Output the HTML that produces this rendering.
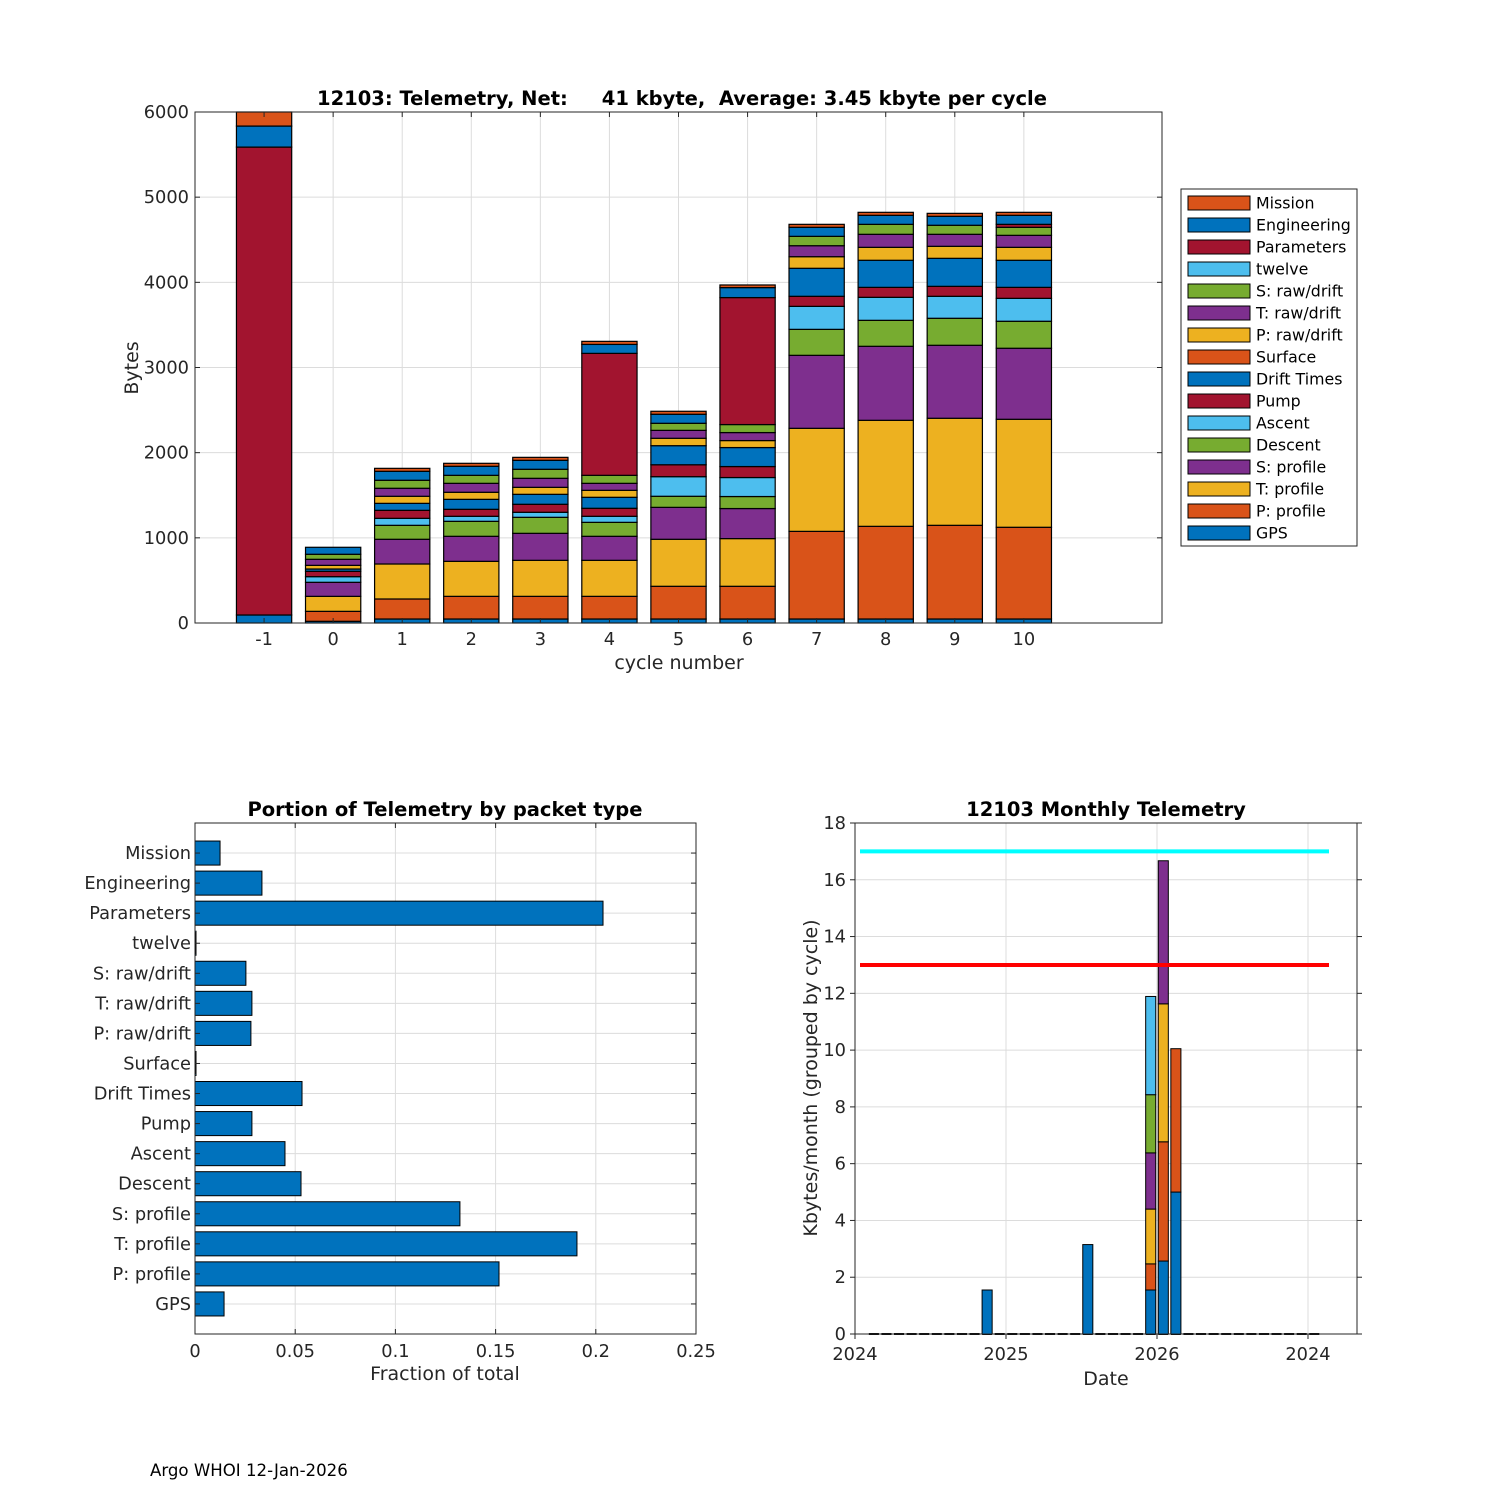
<!DOCTYPE html>
<html><head><meta charset="utf-8"><style>
html,body{margin:0;padding:0;background:#fff;}
svg{display:block;font-family:"DejaVu Sans","Liberation Sans",sans-serif;}
</style></head><body>
<svg id="fig" width="1500" height="1500" viewBox="0 0 1500 1500" xmlns="http://www.w3.org/2000/svg">
<rect x="0" y="0" width="1500" height="1500" fill="#fff"/>
<g id="top"></g>
<g id="bl"></g>
<g id="br"></g>
<text x="150" y="1476" font-size="16.6" fill="#000">Argo WHOI 12-Jan-2026</text>
</svg>
<script>
// ---------- Top chart data ----------
const cycles = [-1,0,1,2,3,4,5,6,7,8,9,10];
const seriesNames = ["GPS","P: profile","T: profile","S: profile","Descent","Ascent","Pump","Drift Times","Surface","P: raw/drift","T: raw/drift","S: raw/drift","twelve","Parameters","Engineering","Mission"];
const seriesColors = ["#0072BD","#D95319","#EDB120","#7E2F8E","#77AC30","#4DBEEE","#A2142F","#0072BD","#D95319","#EDB120","#7E2F8E","#77AC30","#4DBEEE","#A2142F","#0072BD","#D95319"];
const gpsVals        = [94,20,47,47,47,47,47,47,47,47,47,47];
const pProfileVals   = [0,117,235,266,266,266,384,384,1029,1088,1100,1077];
const tProfileVals   = [0,176,411,411,423,423,552,560,1210,1245,1257,1268];
const sProfileVals   = [0,165,290,294,317,282,375,353,857,869,857,834];
const descentVals    = [0,0,164,176,188,164,130,141,305,305,317,317];
const ascentVals     = [0,66,82,59,59,71,230,223,270,270,258,269];
const pumpVals       = [0,63,94,82,94,94,140,129,118,117,117,129];
const driftVals      = [0,27,82,117,117,129,224,223,329,318,329,318];
const surfaceVals    = [0,0,0,0,0,0,0,0,0,0,0,0];
const pRawVals       = [0,43,83,83,82,82,87,82,136,152,141,152];
const tRawVals       = [0,71,94,105,106,82,93,94,129,153,141,141];
const sRawVals       = [0,59,94,94,106,94,83,94,110,117,106,94];
const twelveVals     = [0,0,0,0,0,0,0,0,0,0,0,0];
const parametersVals = [5494,0,0,0,0,1432,0,1491,0,0,0,35];
const engineeringVals= [247,82,105,106,105,105,106,117,106,106,105,106];
const missionVals    = [165,0,35,35,35,36,35,31,35,35,35,35];
const topYTicks = [0,1000,2000,3000,4000,5000,6000];

// ---------- Bottom-left data ----------
const packetNames = ["GPS","P: profile","T: profile","S: profile","Descent","Ascent","Pump","Drift Times","Surface","P: raw/drift","T: raw/drift","S: raw/drift","twelve","Parameters","Engineering","Mission"];
const packetFractions = [0.0145,0.1517,0.1906,0.1322,0.0529,0.0449,0.0284,0.0534,0.0005,0.0279,0.0284,0.0254,0.0005,0.2036,0.0334,0.0125];
const fracTicks = [0,0.05,0.1,0.15,0.2,0.25];
const fracTickLabels = ["0","0.05","0.1","0.15","0.2","0.25"];

// ---------- Bottom-right data ----------
const monthIdx = [];
for (let i = 1; i <= 36; i++) monthIdx.push(i);
const monthLayer1 = [0,0,0,0,0,0,0,0,0,1.55,0,0,0,0,0,0,0,3.15,0,0,0,0,1.55,2.57,5.0,0,0,0,0,0,0,0,0,0,0,0];
const monthLayer2 = [0,0,0,0,0,0,0,0,0,0,0,0,0,0,0,0,0,0,0,0,0,0,0.92,4.2,5.05,0,0,0,0,0,0,0,0,0,0,0];
const monthLayer3 = [0,0,0,0,0,0,0,0,0,0,0,0,0,0,0,0,0,0,0,0,0,0,1.93,4.86,0,0,0,0,0,0,0,0,0,0,0,0];
const monthLayer4 = [0,0,0,0,0,0,0,0,0,0,0,0,0,0,0,0,0,0,0,0,0,0,1.98,5.04,0,0,0,0,0,0,0,0,0,0,0,0];
const monthLayer5 = [0,0,0,0,0,0,0,0,0,0,0,0,0,0,0,0,0,0,0,0,0,0,2.05,0,0,0,0,0,0,0,0,0,0,0,0,0];
const monthLayer6 = [0,0,0,0,0,0,0,0,0,0,0,0,0,0,0,0,0,0,0,0,0,0,3.46,0,0,0,0,0,0,0,0,0,0,0,0,0];
const monthLayerColors = ["#0072BD","#D95319","#EDB120","#7E2F8E","#77AC30","#4DBEEE"];
const limitLines = [17,13];
const limitColors = ["#00FFFF","#FF0000"];
const monthYTicks = [0,2,4,6,8,10,12,14,16,18];
const dateTickPos = [0,12,24,36];
const dateTickLabels = ["2024","2025","2026","2024"];

const NS = "http://www.w3.org/2000/svg";
function mk(parent, tag, attrs, text) {
  const e = document.createElementNS(NS, tag);
  for (const k in attrs) e.setAttribute(k, attrs[k]);
  if (text !== undefined) e.textContent = text;
  parent.appendChild(e);
  return e;
}
const AX = "#262626", GRID = "#dcdcdc";
const TF = 17.8, LF = 19, HF = 19.5;

// ================= TOP CHART =================
(function(){
  const g = document.getElementById("top");
  const L=195,R=1162,T=112,B=623;
  const xs = c => L + (c - (-2)) / 14 * (R-L);
  const ys = v => B - v / 6000 * (B-T);
  cycles.forEach(c => {
    const gl = mk(g,"line",{x1:xs(c),x2:xs(c),y1:T,y2:B,stroke:GRID,"stroke-width":1});
    
    
  });
  topYTicks.forEach(v => {
    const gl = mk(g,"line",{x1:L,x2:R,y1:ys(v),y2:ys(v),stroke:GRID,"stroke-width":1});
    
    
  });
  const all = [gpsVals,pProfileVals,tProfileVals,sProfileVals,descentVals,ascentVals,pumpVals,driftVals,surfaceVals,pRawVals,tRawVals,sRawVals,twelveVals,parametersVals,engineeringVals,missionVals];
  const bw = 0.8 * (xs(1)-xs(0));
  cycles.forEach((c,i) => {
    let acc = 0;
    all.forEach((s,k) => {
      const v = s[i];
      if (v <= 0) return;
      const r = mk(g,"rect",{x:xs(c)-bw/2,y:ys(acc+v),width:bw,height:ys(acc)-ys(acc+v),fill:seriesColors[k],stroke:"#000","stroke-width":1.2});
      
      
      acc += v;
    });
  });
  const box = mk(g,"rect",{x:L,y:T,width:R-L,height:B-T,fill:"none",stroke:AX,"stroke-width":1});
  
  
  cycles.forEach(c => {
    mk(g,"line",{x1:xs(c),x2:xs(c),y1:B,y2:B-5,stroke:AX});
    mk(g,"line",{x1:xs(c),x2:xs(c),y1:T,y2:T+5,stroke:AX});
    const t = mk(g,"text",{x:xs(c),y:B+22,"text-anchor":"middle","font-size":TF,fill:AX}, String(c));
    
    
  });
  topYTicks.forEach(v => {
    mk(g,"line",{x1:L,x2:L+5,y1:ys(v),y2:ys(v),stroke:AX});
    mk(g,"line",{x1:R,x2:R-5,y1:ys(v),y2:ys(v),stroke:AX});
    const t = mk(g,"text",{x:L-6,y:ys(v)+6,"text-anchor":"end","font-size":TF,fill:AX}, String(v));
    
    
  });
  const tt = mk(g,"text",{x:682,y:105,"text-anchor":"middle","font-size":HF,"font-weight":"bold",fill:"#000",style:"white-space:pre"}, "12103: Telemetry, Net:     41 kbyte,  Average: 3.45 kbyte per cycle");
  
  
  const xl = mk(g,"text",{x:679,y:669,"text-anchor":"middle","font-size":LF,fill:AX},"cycle number");
  
  
  const yl = mk(g,"text",{x:0,y:0,"text-anchor":"middle","font-size":LF,fill:AX,transform:"translate(138,368) rotate(-90)"},"Bytes");
  
  
  const lg = mk(g,"g",{});
  
  
  mk(lg,"rect",{x:1181,y:189,width:176,height:357,fill:"#fff",stroke:AX,"stroke-width":1});
  for (let k = 15; k >= 0; k--) {
    const row = 15 - k;
    const y = 203 + row*22;
    const e = mk(lg,"g",{});
    
    
    mk(e,"rect",{x:1188,y:y-7,width:62,height:14,fill:seriesColors[k],stroke:"#000","stroke-width":1});
    mk(e,"text",{x:1256,y:y+5.5,"font-size":15.8,fill:"#000"},seriesNames[k]);
  }
})();

// ================= BOTTOM LEFT =================
(function(){
  const g = document.getElementById("bl");
  const L=195,R=696,T=823,B=1334;
  const xs = v => L + v/0.25*(R-L);
  const ys = i => B - (i+1)/17*(B-T);
  fracTicks.forEach(v => {
    const gl = mk(g,"line",{x1:xs(v),x2:xs(v),y1:T,y2:B,stroke:GRID});
    
    
  });
  packetNames.forEach((n,i) => {
    const gl = mk(g,"line",{x1:L,x2:R,y1:ys(i),y2:ys(i),stroke:GRID});
    
    
  });
  const bh = 0.8*(B-T)/17;
  packetFractions.forEach((v,i) => {
    const r = mk(g,"rect",{x:xs(0),y:ys(i)-bh/2,width:xs(v)-xs(0),height:bh,fill:"#0072BD",stroke:"#000","stroke-width":1});
    
    
  });
  mk(g,"rect",{x:L,y:T,width:R-L,height:B-T,fill:"none",stroke:AX});
  fracTicks.forEach((v,i) => {
    mk(g,"line",{x1:xs(v),x2:xs(v),y1:B,y2:B-5,stroke:AX});
    mk(g,"line",{x1:xs(v),x2:xs(v),y1:T,y2:T+5,stroke:AX});
    const t = mk(g,"text",{x:xs(v),y:B+23,"text-anchor":"middle","font-size":TF,fill:AX},fracTickLabels[i]);
    
    
  });
  packetNames.forEach((n,i) => {
    mk(g,"line",{x1:L,x2:L+5,y1:ys(i),y2:ys(i),stroke:AX});
    mk(g,"line",{x1:R,x2:R-5,y1:ys(i),y2:ys(i),stroke:AX});
    const t = mk(g,"text",{x:L-4,y:ys(i)+6,"text-anchor":"end","font-size":TF,fill:AX},n);
    
    
  });
  const tt = mk(g,"text",{x:445,y:816,"text-anchor":"middle","font-size":HF,"font-weight":"bold",fill:"#000"},"Portion of Telemetry by packet type");
  
  
  const xl = mk(g,"text",{x:445,y:1380,"text-anchor":"middle","font-size":LF,fill:AX},"Fraction of total");
  
  
})();

// ================= BOTTOM RIGHT =================
(function(){
  const g = document.getElementById("br");
  const L=855,R=1357,T=823,B=1334;
  const pxm = 151/12;
  const xs = m => L + m*pxm;
  const ys = v => B - v/18*(B-T);
  dateTickPos.forEach(m => {
    const gl = mk(g,"line",{x1:xs(m),x2:xs(m),y1:T,y2:B,stroke:GRID});
    
    
  });
  monthYTicks.forEach(v => {
    const gl = mk(g,"line",{x1:L,x2:R,y1:ys(v),y2:ys(v),stroke:GRID});
    
    
  });
  const layers = [monthLayer1,monthLayer2,monthLayer3,monthLayer4,monthLayer5,monthLayer6];
  const bw = 0.8*pxm;
  monthIdx.forEach((m,i) => {
    let acc = 0;
    const cx = xs(m+0.5);
    const base = mk(g,"line",{x1:cx-bw/2,x2:cx+bw/2,y1:B,y2:B,stroke:"#000","stroke-width":2});
    
    
    layers.forEach((ly,k) => {
      const v = ly[i];
      if (v <= 0) return;
      const r = mk(g,"rect",{x:cx-bw/2,y:ys(acc+v),width:bw,height:ys(acc)-ys(acc+v),fill:monthLayerColors[k],stroke:"#000","stroke-width":1});
      
      
      acc += v;
    });
  });
  limitLines.forEach((v,k) => {
    const ln = mk(g,"line",{x1:860,x2:1329,y1:ys(v),y2:ys(v),stroke:limitColors[k],"stroke-width":4});
    
    
  });
  mk(g,"rect",{x:L,y:T,width:R-L,height:B-T,fill:"none",stroke:AX});
  monthYTicks.forEach(v => {
    mk(g,"line",{x1:L,x2:L-5,y1:ys(v),y2:ys(v),stroke:AX});
    mk(g,"line",{x1:R,x2:R+5,y1:ys(v),y2:ys(v),stroke:AX});
    const t = mk(g,"text",{x:L-9,y:ys(v)+6,"text-anchor":"end","font-size":TF,fill:AX},String(v));
    
    
  });
  dateTickPos.forEach((m,i) => {
    mk(g,"line",{x1:xs(m),x2:xs(m),y1:B,y2:B+5,stroke:AX});
    const t = mk(g,"text",{x:xs(m),y:B+26,"text-anchor":"middle","font-size":TF,fill:AX},dateTickLabels[i]);
    
    
  });
  const tt = mk(g,"text",{x:1106,y:816,"text-anchor":"middle","font-size":HF,"font-weight":"bold",fill:"#000"},"12103 Monthly Telemetry");
  
  
  const xl = mk(g,"text",{x:1106,y:1385,"text-anchor":"middle","font-size":LF,fill:AX},"Date");
  
  
  const yl = mk(g,"text",{x:0,y:0,"text-anchor":"middle","font-size":LF,fill:AX,transform:"translate(817,1078) rotate(-90)"},"Kbytes/month (grouped by cycle)");
  
  
})();
</script>
</body></html>
